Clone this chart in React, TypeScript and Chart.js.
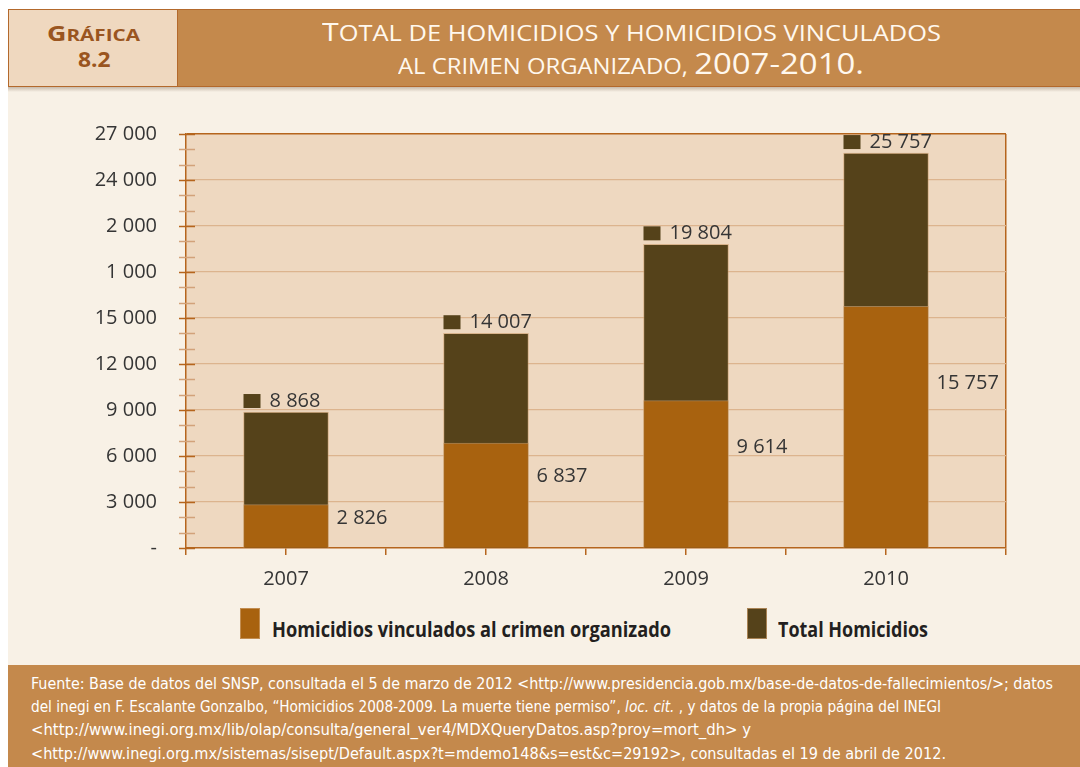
import React, { useEffect, useLayoutEffect, useRef } from 'react';
import { Chart, registerables } from 'chart.js';

Chart.register(...registerables);

// ---------- data ----------
const years = ['2007', '2008', '2009', '2010'];
const homicidiosCrimen = [2826, 6837, 9614, 15757];
const totalHomicidios = [8868, 14007, 19804, 25757];
const yTickLabels = ['-', '3 000', '6 000', '9 000', '12 000', '15 000', '1 000', '2 000', '24 000', '27 000'];
const seriesNames = ['Homicidios vinculados al crimen organizado', 'Total Homicidios'];
const seriesColors = ['#a8620f', '#55421a'];
const chartLabel = ['Gráfica', '8.2'];
const titleLines = ['Total de homicidios y homicidios vinculados', 'al crimen organizado, 2007-2010.'];

// ---------- styles ----------
const AXIS = '#b5651d';
const GRID = '#dcb48e';
const PLOT_BG = '#eed8c0';
const CREAM = '#f8f1e6';
const BROWN = '#c4894c';
const TEXT = '#353535';
const FONT = "'Open Sans', 'DejaVu Sans', sans-serif";

const fmt = (n: number) => String(n).replace(/\B(?=(\d{3})+(?!\d))/g, ' ');

type FitProps = { x: number; w: number; base: number; style?: React.CSSProperties; children: React.ReactNode };
function Fit({ x, w, base, style, children }: FitProps) {
  const ref = useRef<HTMLDivElement>(null);
  const mark = useRef<HTMLSpanElement>(null);
  useLayoutEffect(() => {
    const el = ref.current;
    const m = mark.current;
    if (!el || !m) return;
    el.style.transform = 'none';
    el.style.top = '0px';
    const r = el.getBoundingClientRect();
    const mr = m.getBoundingClientRect();
    el.style.top = base - (mr.top - r.top) + 'px';
    if (r.width > 0) el.style.transform = `scaleX(${w / r.width})`;
  });
  return (
    <div
      ref={ref}
      style={{ position: 'absolute', left: x, top: 0, whiteSpace: 'nowrap', transformOrigin: '0 0', ...style }}
    >
      {children}
      <span ref={mark} style={{ display: 'inline-block', width: 0, height: 0 }} />
    </div>
  );
}

function smallCaps(text: string, big: number, small: number, digit: number) {
  const out: React.ReactNode[] = [];
  for (let i = 0; i < text.length; i++) {
    const ch = text[i];
    let size = small;
    if (/[0-9]/.test(ch) || (/[\-.]/.test(ch) && /[0-9]/.test(text.slice(Math.max(0, i - 1), i + 2)))) size = digit;
    else if (/[A-ZÁÉÍÓÚ]/.test(ch)) size = big;
    out.push(
      <span key={i} style={{ fontSize: size }}>
        {ch.toUpperCase()}
      </span>
    );
  }
  return out;
}

const bgPlugin = {
  id: 'plotBg',
  beforeDraw(chart: any) {
    const { ctx, chartArea: a } = chart;
    ctx.save();
    ctx.fillStyle = PLOT_BG;
    ctx.fillRect(a.left, a.top, a.right - a.left, a.bottom - a.top);
    ctx.restore();
  },
};

const yTickPlugin = {
  id: 'yTicks',
  afterDatasetsDraw(chart: any) {
    const { ctx } = chart;
    const y = chart.scales.y;
    ctx.save();
    y.ticks.forEach((t: any) => {
      const py = Math.round(y.getPixelForValue(t.value)) + 0.5;
      const major = t.value % 3000 === 0;
      ctx.strokeStyle = major ? AXIS : '#d2a27a';
      ctx.lineWidth = 1.5;
      ctx.beginPath();
      ctx.moveTo(y.right - 7, py);
      ctx.lineTo(y.right + 9, py);
      ctx.stroke();
    });
    ctx.restore();
  },
};

const labelPlugin = {
  id: 'valueLabels',
  afterDatasetsDraw(chart: any) {
    const { ctx } = chart;
    const y = chart.scales.y;
    ctx.save();
    ctx.font = `20px ${FONT}`;
    ctx.textBaseline = 'middle';
    ctx.textAlign = 'left';
    chart.getDatasetMeta(1).data.forEach((bar: any, i: number) => {
      const left = bar.x - bar.width / 2;
      const cy = bar.y - 11;
      ctx.fillStyle = seriesColors[1];
      ctx.fillRect(left, cy - 7, 17, 14);
      ctx.fillStyle = TEXT;
      ctx.fillText(fmt(totalHomicidios[i]), left + 26, cy);
    });
    chart.getDatasetMeta(0).data.forEach((bar: any, i: number) => {
      const right = bar.x + bar.width / 2;
      const cy = y.getPixelForValue(homicidiosCrimen[i] * 0.68);
      ctx.fillStyle = TEXT;
      ctx.fillText(fmt(homicidiosCrimen[i]), right + 8, cy);
    });
    ctx.restore();
  },
};

function BarChart() {
  const ref = useRef<HTMLCanvasElement>(null);
  useEffect(() => {
    if (!ref.current) return;
    const chart = new Chart(ref.current, {
      type: 'bar',
      data: {
        datasets: [
          {
            label: seriesNames[0],
            data: homicidiosCrimen.map((v, i) => ({ x: i, y: v })),
            backgroundColor: seriesColors[0],
            borderColor: 'rgba(205,160,110,0.65)',
            borderWidth: 1,
            grouped: false,
            barThickness: 85,
          } as any,
          {
            label: seriesNames[1],
            data: totalHomicidios.map((v, i) => ({ x: i, y: v })),
            backgroundColor: seriesColors[1],
            borderColor: 'rgba(205,160,110,0.65)',
            borderWidth: 1,
            grouped: false,
            barThickness: 85,
          } as any,
        ],
      },
      options: {
        animation: false,
        responsive: false,
        layout: { padding: { left: 0, right: 74, top: 44, bottom: 0 } },
        plugins: { legend: { display: false }, tooltip: { enabled: false }, title: { display: false } },
        scales: {
          x: {
            type: 'linear',
            min: -0.5,
            max: 3.6,
            offset: false,
            afterFit: (s: any) => {
              s.height = 52;
            },
            ticks: {
              stepSize: 0.5,
              autoSkip: false,
              maxRotation: 0,
              padding: 12,
              color: TEXT,
              font: { family: FONT, size: 20 },
              callback: (v: any) => (Number.isInteger(v) && years[v] ? years[v] : ''),
            },
            grid: {
              offset: false,
              color: (c: any) => (c.tick && Math.abs(c.tick.value - 3.6) < 1e-6 ? AXIS : 'rgba(0,0,0,0)'),
              tickColor: AXIS,
              tickLength: 7,
              lineWidth: 1.5,
            },
            border: { color: AXIS, width: 1.5 },
          } as any,
          y: {
            min: 0,
            max: 27000,
            afterFit: (s: any) => {
              s.width = 186;
            },
            ticks: {
              stepSize: 1000,
              autoSkip: false,
              padding: 29,
              color: TEXT,
              font: { family: FONT, size: 20 },
              callback: (v: any) => (v % 3000 === 0 ? yTickLabels[v / 3000] : ''),
            },
            grid: {
              drawTicks: false,
              color: (c: any) => {
                const v = c.tick ? c.tick.value : -1;
                if (v === 27000) return AXIS;
                if (v > 0 && v % 3000 === 0) return GRID;
                return 'rgba(0,0,0,0)';
              },
              lineWidth: (c: any) => (c.tick && c.tick.value === 27000 ? 1.5 : 1.2),
            },
            border: { color: AXIS, width: 1.5 },
          } as any,
        },
      },
      plugins: [bgPlugin, yTickPlugin, labelPlugin],
    });
    return () => chart.destroy();
  }, []);
  return <canvas ref={ref} width={1080} height={510} style={{ position: 'absolute', left: 0, top: 90 }} />;
}

export default function App() {
  const footerStyle: React.CSSProperties = {
    color: '#ffffff',
    fontFamily: "'Liberation Sans Narrow', 'DejaVu Sans Condensed', 'Open Sans', sans-serif",
    fontSize: 16,
  };
  const legendText: React.CSSProperties = { color: '#231f20', fontFamily: FONT, fontWeight: 700, fontSize: 22 };
  return (
    <div style={{ position: 'absolute', left: 0, top: 0, width: 1080, height: 767, overflow: 'hidden', background: '#ffffff' }}>
      {/* panel */}
      <div style={{ position: 'absolute', left: 8, top: 87, width: 1072, height: 578, background: CREAM }} />
      <div
        style={{
          position: 'absolute',
          left: 8,
          top: 87,
          width: 1072,
          height: 5,
          background: 'linear-gradient(rgba(110,85,60,0.35), rgba(110,85,60,0))',
        }}
      />
      {/* header */}
      <div
        style={{
          position: 'absolute',
          left: 8,
          top: 9,
          width: 170,
          height: 78,
          boxSizing: 'border-box',
          background: '#efd8bf',
          border: '1.5px solid #b3692c',
        }}
      />
      <div
        style={{
          position: 'absolute',
          left: 177,
          top: 9,
          width: 903,
          height: 78,
          boxSizing: 'border-box',
          background: BROWN,
          borderTop: '1.5px solid #b3692c',
          borderBottom: '1.5px solid #b3692c',
          borderLeft: '1.5px solid #b3692c',
        }}
      />
      <Fit x={46.5} w={93} base={40.6} style={{ color: '#9a5520', fontFamily: FONT, fontWeight: 700 }}>
        {smallCaps(chartLabel[0], 20.7, 16, 20.7)}
      </Fit>
      <Fit x={77.5} w={32.5} base={67} style={{ color: '#9a5520', fontFamily: FONT, fontWeight: 700, fontSize: 22 }}>
        {chartLabel[1]}
      </Fit>
      <Fit x={322} w={619} base={40.6} style={{ color: '#fff8ee', fontFamily: FONT, fontWeight: 500 }}>
        {smallCaps(titleLines[0], 25, 21, 29)}
      </Fit>
      <Fit x={398} w={466} base={74} style={{ color: '#fff8ee', fontFamily: FONT, fontWeight: 500 }}>
        {smallCaps(titleLines[1], 21, 21, 29)}
      </Fit>

      <BarChart />

      {/* legend */}
      <div
        style={{
          position: 'absolute',
          left: 240,
          top: 608,
          width: 20,
          height: 31,
          boxSizing: 'border-box',
          background: seriesColors[0],
          border: '1px solid rgba(205,160,110,0.7)',
        }}
      />
      <Fit x={272} w={399} base={637} style={legendText}>
        {seriesNames[0]}
      </Fit>
      <div
        style={{
          position: 'absolute',
          left: 747,
          top: 608,
          width: 20,
          height: 31,
          boxSizing: 'border-box',
          background: seriesColors[1],
          border: '1px solid rgba(205,160,110,0.7)',
        }}
      />
      <Fit x={778} w={150} base={637} style={legendText}>
        {seriesNames[1]}
      </Fit>

      {/* footer */}
      <div style={{ position: 'absolute', left: 8, top: 664.5, width: 1072, height: 103, background: BROWN }} />
      <Fit x={31} w={1022} base={688.6} style={footerStyle}>
        {'Fuente: Base de datos del SNSP, consultada el 5 de marzo de 2012 <http://www.presidencia.gob.mx/base-de-datos-de-fallecimientos/>; datos'}
      </Fit>
      <Fit x={31} w={910} base={712} style={footerStyle}>
        {'del inegi en F. Escalante Gonzalbo, “Homicidios 2008-2009. La muerte tiene permiso”, '}
        <i>loc. cit.</i>
        {' , y datos de la propia página del INEGI'}
      </Fit>
      <Fit x={31} w={720} base={735} style={footerStyle}>
        {'<http://www.inegi.org.mx/lib/olap/consulta/general_ver4/MDXQueryDatos.asp?proy=mort_dh> y'}
      </Fit>
      <Fit x={31} w={915} base={758.5} style={footerStyle}>
        {'<http://www.inegi.org.mx/sistemas/sisept/Default.aspx?t=mdemo148&s=est&c=29192>, consultadas el 19 de abril de 2012.'}
      </Fit>
    </div>
  );
}
